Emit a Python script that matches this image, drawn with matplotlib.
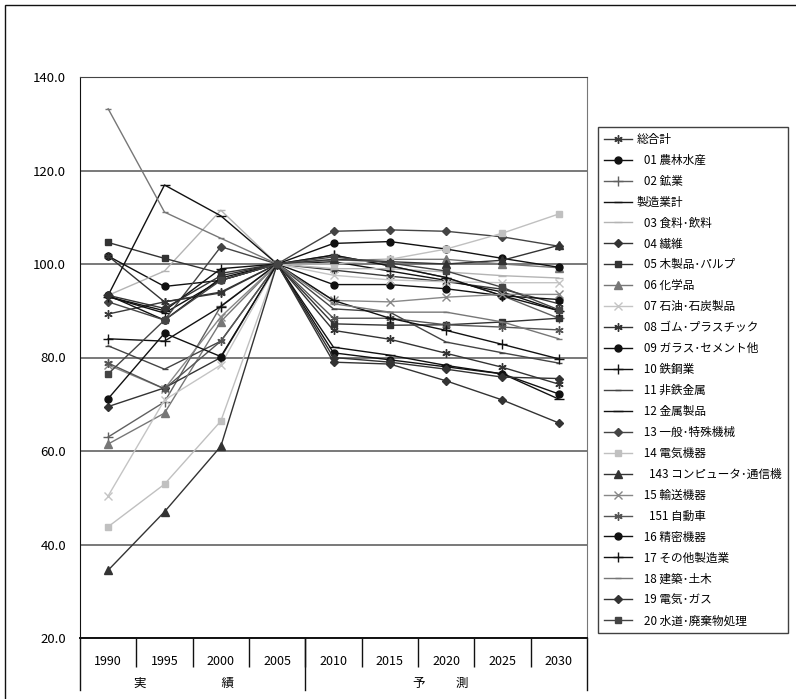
import matplotlib
matplotlib.use("Agg")
import matplotlib.pyplot as plt
from matplotlib.patches import Rectangle
from matplotlib.transforms import blended_transform_factory

plt.rcParams['font.family'] = ['Noto Sans CJK JP', 'DejaVu Sans']

# ---------------- data ----------------
years = ["1990", "1995", "2000", "2005", "2010", "2015", "2020", "2025", "2030"]

labels = ["総合計", "   01 農林水産", "   02 鉱業", "製造業計", "   03 食料･飲料",
          "   04 繊維", "   05 木製品･パルプ", "   06 化学品", "   07 石油･石炭製品",
          "   08 ゴム･プラスチック", "   09 ガラス･セメント他", "   10 鉄鋼業",
          "   11 非鉄金属", "   12 金属製品", "   13 一般･特殊機械", "   14 電気機器",
          "     143 コンピュータ･通信機", "   15 輸送機器", "     151 自動車",
          "   16 精密機器", "   17 その他製造業", "   18 建築･土木", "   19 電気･ガス",
          "   20 水道･廃棄物処理"]

total = [89.3, 91.9, 93.8, 100, 98.7, 97.4, 96.2, 94.6, 91.5]
agri = [101.7, 95.2, 96.5, 100, 95.6, 95.6, 94.7, 93.2, 92.4]
mining = [63.0, 70.5, 91.0, 100, 101.9, 99.6, 97.1, 93.2, 88.4]
manuf = [93.0, 89.5, 96.5, 100, 100.5, 98.5, 96.5, 94.0, 90.0]
food = [93.3, 98.5, 111.5, 100, 99.0, 99.0, 98.3, 97.5, 97.0]
textile = [69.5, 73.5, 80.0, 100, 79.0, 78.6, 75.0, 70.9, 66.0]
wood = [104.6, 101.2, 98.0, 100, 87.2, 86.9, 87.0, 87.6, 88.4]
chemical = [61.5, 68.1, 87.7, 100, 100.8, 101.0, 101.0, 100.0, 99.2]
petroleum = [50.4, 70.9, 78.4, 100, 97.6, 96.6, 96.2, 96.0, 96.0]
rubber = [101.7, 91.9, 94.0, 100, 85.8, 83.9, 80.9, 77.9, 74.3]
glass = [93.3, 88.0, 97.0, 100, 104.4, 104.8, 103.2, 101.2, 99.3]
steel = [84.0, 83.5, 90.9, 100, 101.9, 99.6, 97.1, 93.2, 90.0]
nonferrous = [82.5, 77.5, 83.5, 100, 90.4, 89.7, 83.3, 81.0, 78.8]
metal = [93.3, 116.9, 110.3, 100, 82.2, 80.5, 78.3, 76.5, 71.1]
machinery = [91.9, 88.0, 103.7, 100, 107.0, 107.3, 107.0, 105.8, 103.8]
electric = [43.8, 52.9, 66.4, 100, 100.0, 101.0, 103.2, 106.6, 110.7]
computer = [34.5, 47.0, 61.0, 100, 101.0, 100.5, 100.0, 100.8, 104.0]
transport = [78.4, 73.3, 88.7, 100, 92.2, 91.9, 92.9, 93.5, 93.5]
auto = [78.8, 73.3, 83.5, 100, 88.4, 88.4, 87.0, 86.5, 85.9]
precision = [71.2, 85.2, 80.2, 100, 81.0, 79.5, 78.0, 76.5, 72.2]
other_manuf = [93.0, 90.0, 99.0, 100, 92.2, 88.4, 85.8, 82.8, 79.7]
construction = [133.2, 111.1, 105.5, 100, 91.5, 89.7, 89.7, 87.6, 84.0]
power_gas = [93.3, 90.5, 97.5, 100, 80.0, 79.0, 77.5, 75.8, 75.5]
water = [76.5, 88.0, 96.5, 100, 101.5, 100.2, 98.5, 95.0, 90.2]

series = [total, agri, mining, manuf, food, textile, wood, chemical, petroleum,
          rubber, glass, steel, nonferrous, metal, machinery, electric, computer,
          transport, auto, precision, other_manuf, construction, power_gas, water]

# ---------------- styles ----------------
star = (6, 2, 0)
styles = [
    ('#3a3a3a', star, 6), ('#111111', 'o', 5), ('#606060', '+', 7), ('#111111', '_', 6),
    ('#b4b4b4', '_', 6), ('#333333', 'D', 4), ('#333333', 's', 5), ('#777777', '^', 6),
    ('#c4c4c4', 'x', 6), ('#333333', star, 6), ('#111111', 'o', 5), ('#111111', '+', 7),
    ('#444444', '_', 5), ('#111111', '_', 7), ('#444444', 'D', 4), ('#c0c0c0', 's', 5),
    ('#333333', '^', 6), ('#888888', 'x', 6), ('#555555', star, 6), ('#111111', 'o', 5),
    ('#111111', '+', 7), ('#777777', '_', 5), ('#333333', 'D', 4), ('#444444', 's', 5),
]

fig = plt.figure(figsize=(7.96, 6.99), dpi=100)
ax = fig.add_axes([80 / 796, 61 / 699, 507 / 796, 561 / 699])

xs = [i + 0.5 for i in range(len(years))]
for vals, lab, (col, mk, ms) in zip(series, labels, styles):
    ax.plot(xs, vals, color=col, lw=1.0, marker=mk, markersize=ms,
            markerfacecolor=col, markeredgecolor=col, markeredgewidth=1.0, label=lab)

ax.set_xlim(0, 9)
ax.set_ylim(20, 140)
ax.set_yticks(range(20, 141, 20))
ax.set_yticklabels([f"{v:.1f}" for v in range(20, 141, 20)], fontsize=9.5)
ax.tick_params(axis='y', length=0, pad=10)
ax.yaxis.grid(True, color='#555555', lw=1.1)
ax.set_axisbelow(True)

ax.set_xticks(xs)
ax.set_xticklabels(years, fontsize=9)
ax.set_xticks(range(1, 9), minor=True)
ax.tick_params(axis='x', which='major', length=0, pad=12)
ax.tick_params(axis='x', which='minor', length=21, width=1.0, color='#111111', direction='out')

for side in ['left', 'bottom']:
    ax.spines[side].set_color('#111111')
ax.spines['bottom'].set_linewidth(1.4)
ax.spines['top'].set_color('#444444')
ax.spines['right'].set_color('#777777')

# long separators between actual and forecast periods
trans = blended_transform_factory(ax.transData, ax.transAxes)
for xsep in [0, 4, 9]:
    ax.plot([xsep, xsep], [0, -0.093], color='#111111', lw=1.0,
            transform=trans, clip_on=False)
ax.text(1.85, -0.081, "実" + "\u3000" * 6 + "績", transform=trans,
        ha='center', va='center', fontsize=9)
ax.text(6.4, -0.081, "予\u3000\u3000  測", transform=trans,
        ha='center', va='center', fontsize=9)

leg = fig.legend(loc='upper left', bbox_to_anchor=(598 / 796, 1 - 127 / 699),
                 fontsize=8.4, frameon=True, fancybox=False, handlelength=2.4,
                 labelspacing=0.68, borderpad=0.5, handletextpad=0.4, borderaxespad=0)
leg.get_frame().set_edgecolor('#111111')
leg.get_frame().set_linewidth(1.0)

# outer chart frame
fig.patches.append(Rectangle((5 / 796, -0.1), 1.2, 1 - 5 / 699 + 0.1,
                             transform=fig.transFigure, fill=False,
                             edgecolor='#111111', lw=1.0))

fig.savefig('out.png', dpi=100)
